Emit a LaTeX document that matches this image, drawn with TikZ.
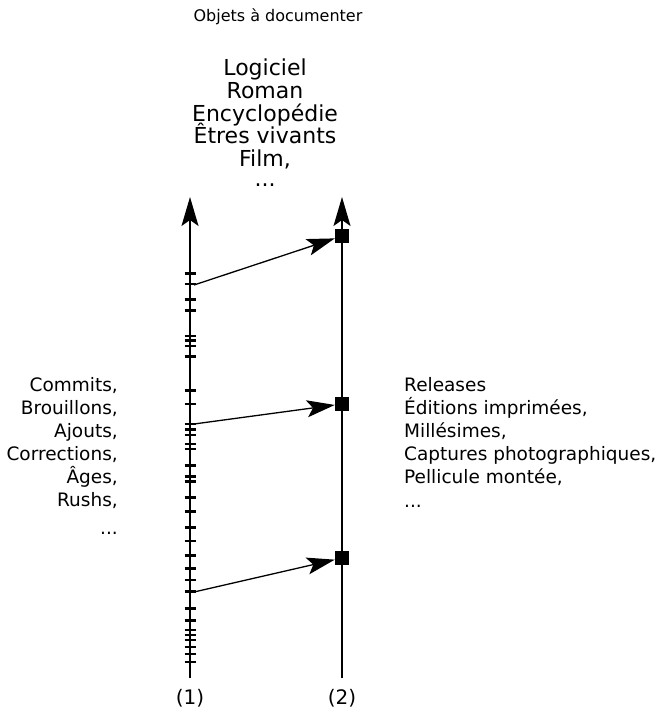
\documentclass[tikz,border=0pt]{standalone}
\usepackage{fontspec}
\setmainfont{DejaVu Sans}
\usetikzlibrary{arrows.meta}
\begin{document}
\begin{tikzpicture}[x=1pt,y=-1pt,
  axis/.style={line width=1.5pt, -{Stealth[length=29pt,width=17pt,inset=6pt]}},
  link/.style={line width=1.3pt, -{Stealth[length=28pt,width=17pt,inset=6pt]}},
  tickmark/.style={line width=2.8pt},
  release/.style={fill=black, inner sep=0pt, minimum size=14pt},
  titletxt/.style={font=\fontsize{16}{19}\selectfont, anchor=base, inner sep=0pt},
  bigtxt/.style={font=\fontsize{22}{22}\selectfont, anchor=base, inner sep=0pt},
  lefttxt/.style={font=\fontsize{18.5}{22}\selectfont, anchor=base east, inner sep=0pt},
  righttxt/.style={font=\fontsize{18.5}{22}\selectfont, anchor=base west, inner sep=0pt},
  labtxt/.style={font=\fontsize{20}{22}\selectfont, anchor=base, inner sep=0pt},
]
\useasboundingbox (0,0) rectangle (665,711);

% ticks on axis (1)
\foreach \t in {273.3,284,299.3,310.5,336,340.7,346,356.7,390.5,404,424,429.5,435,444,449,465.7,476.7,481.7,497.7,511.7,527.7,541,555.5,568.3,580,591.7,608.3,620.5,630,635,640,647,654,662}
  \draw[tickmark] (184.5,\t) -- (195.5,\t);

% axes
\coordinate (a1bot) at (190,678);
\coordinate (a1top) at (190,197);
\coordinate (a2bot) at (342,678);
\coordinate (a2top) at (342,197);
\draw[axis] (a1bot) -- (a1top);
\draw[axis] (a2bot) -- (a2top);

% releases
\node[release] (s1) at (342,236) {};
\node[release] (s2) at (342,404) {};
\node[release] (s3) at (342,558) {};

% connectors
\coordinate (c1) at (194,285);
\coordinate (c2) at (194,424);
\coordinate (c3) at (194,592);
\draw[link] (c1) -- (s1);
\draw[link] (c2) -- (s2);
\draw[link] (c3) -- (s3);

% texts
\node[titletxt] (title) at (278,22) {Objets à documenter};
\node[bigtxt] (o1) at (265,76) {Logiciel};
\node[bigtxt] (o2) at (265,98.7) {Roman};
\node[bigtxt] (o3) at (265,121.3) {Encyclopédie};
\node[bigtxt] (o4) at (265,144) {Êtres vivants};
\node[bigtxt] (o5) at (265,166.7) {Film,};
\node[bigtxt] (o6) at (265,186.5) {...};

\node[lefttxt] (l1) at (118,391.5) {Commits,};
\node[lefttxt] (l2) at (118,414.5) {Brouillons,};
\node[lefttxt] (l3) at (118,437.5) {Ajouts,};
\node[lefttxt] (l4) at (118,460.5) {Corrections,};
\node[lefttxt] (l5) at (118,483.5) {Âges,};
\node[lefttxt] (l6) at (118,506.5) {Rushs,};
\node[lefttxt] (l7) at (118,534) {...};

\node[righttxt] (r1) at (404,391.5) {Releases};
\node[righttxt] (r2) at (404,414.5) {Éditions imprimées,};
\node[righttxt] (r3) at (404,437.5) {Millésimes,};
\node[righttxt] (r4) at (404,460.5) {Captures photographiques,};
\node[righttxt] (r5) at (404,483.5) {Pellicule montée,};
\node[righttxt] (r6) at (404,507) {...};

\node[labtxt] (n1) at (190,704) {(1)};
\node[labtxt] (n2) at (342,704) {(2)};
\end{tikzpicture}
\end{document}
